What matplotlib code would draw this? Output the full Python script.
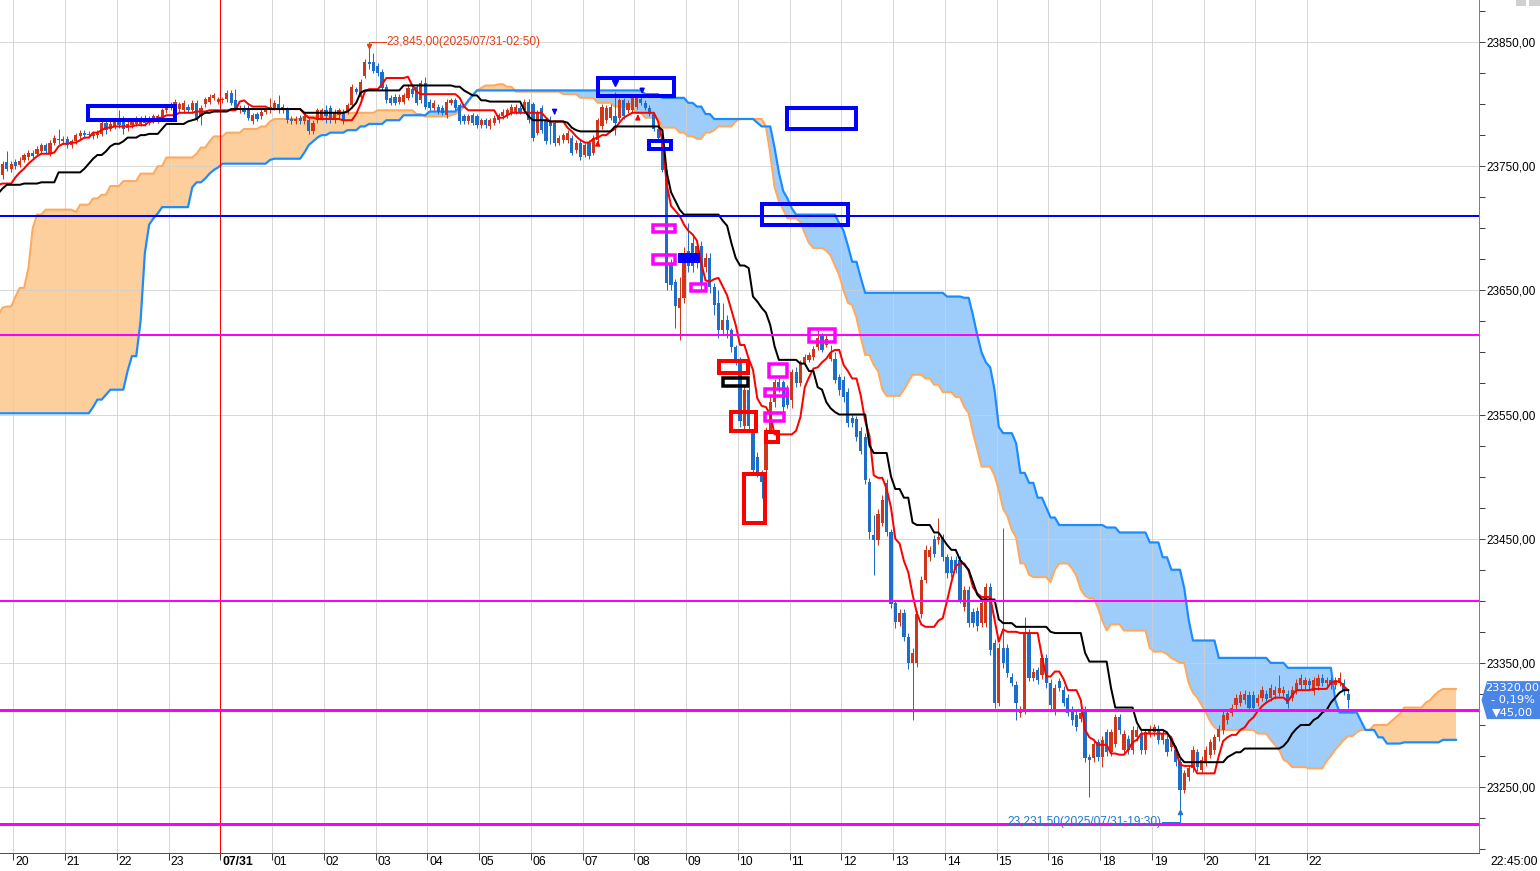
import numpy as np
import matplotlib
matplotlib.use("Agg")
import matplotlib.pyplot as plt
from matplotlib.patches import Rectangle, Polygon
from matplotlib.ticker import MultipleLocator, FixedLocator, FuncFormatter
from matplotlib.transforms import blended_transform_factory, IdentityTransform

plt.rcParams['font.family'] = ['Liberation Sans Narrow', 'Liberation Sans', 'DejaVu Sans']

# ================================
# 5-minute candles, 07/30 19:45 -> 07/31 22:45 (17:00 hour is a break)
# one row per hour (first row = 19:45..19:55)
# ================================
opens = [
    23743, 23753, 23748,
    23753, 23751, 23755, 23757, 23761, 23760, 23762, 23767, 23760, 23769, 23771, 23770,
    23772, 23767, 23770, 23774, 23777, 23776, 23774, 23775, 23776, 23785, 23780, 23782,
    23788, 23788, 23781, 23783, 23784, 23784, 23789, 23785, 23787, 23787, 23789, 23795,
    23797, 23798, 23796, 23795, 23798, 23795, 23801, 23790, 23800, 23802, 23805, 23802,
    23803, 23804, 23809, 23803, 23795, 23797, 23797, 23786, 23792, 23790, 23794, 23795,
    23797, 23800, 23798, 23796, 23788, 23786, 23789, 23786, 23787, 23778, 23787, 23789,
    23795, 23797, 23787, 23791, 23794, 23794, 23799, 23812, 23806, 23823, 23834, 23834,
    23831, 23826, 23814, 23805, 23806, 23802, 23802, 23805, 23812, 23814, 23803, 23817,
    23802, 23797, 23798, 23797, 23791, 23801, 23803, 23799, 23790, 23786, 23791, 23790,
    23783, 23787, 23782, 23785, 23787, 23790, 23791, 23793, 23794, 23797, 23795, 23802,
    23800, 23777, 23797, 23787, 23786, 23785, 23769, 23771, 23771, 23773, 23763, 23769,
    23759, 23769, 23761, 23771, 23782, 23787, 23789, 23790, 23789, 23803, 23795, 23795,
    23798, 23804, 23801, 23797, 23792, 23780, 23773, 23745, 23672, 23657, 23636, 23644,
    23682, 23688, 23672, 23686, 23669, 23676, 23653, 23640, 23618, 23626, 23618, 23604,
    23594, 23541, 23570, 23535, 23516, 23503, 23505, 23537, 23560, 23576, 23576, 23571,
    23562, 23584, 23575, 23591, 23594, 23596, 23604, 23614, 23606, 23595, 23595, 23580,
    23578, 23568, 23547, 23546, 23537, 23532, 23496, 23453, 23449, 23463, 23495, 23455,
    23398, 23383, 23390, 23371, 23350, 23350, 23389, 23417, 23435, 23450, 23449, 23451,
    23435, 23433, 23433, 23433, 23395, 23409, 23391, 23392, 23382, 23382, 23411, 23366,
    23318, 23362, 23362, 23339, 23332, 23310, 23312, 23374, 23338, 23344, 23340, 23354,
    23334, 23312, 23335, 23328, 23322, 23312, 23308, 23305, 23312, 23274, 23273, 23286,
    23274, 23294, 23278, 23285, 23306, 23280, 23289, 23280, 23290, 23293, 23280, 23293,
    23294, 23297, 23288, 23289, 23282, 23280, 23270, 23248, 23258, 23265, 23278, 23264,
    23270, 23276, 23280, 23290, 23296, 23304, 23310, 23316, 23318, 23320, 23324, 23324,
    23318, 23322, 23325, 23322, 23324, 23326, 23326, 23325, 23322, 23328, 23332, 23332,
    23335, 23327, 23331, 23338, 23334, 23336, 23332, 23334, 23334, 23325,
]
highs = [
    23754, 23762, 23754,
    23756, 23757, 23761, 23763, 23763, 23766, 23769, 23769, 23771, 23775, 23780, 23774,
    23774, 23772, 23777, 23779, 23779, 23778, 23778, 23779, 23787, 23787, 23786, 23789,
    23795, 23790, 23786, 23788, 23790, 23790, 23791, 23790, 23792, 23792, 23797, 23800,
    23802, 23804, 23802, 23803, 23800, 23803, 23803, 23799, 23806, 23808, 23809, 23806,
    23806, 23811, 23811, 23812, 23799, 23799, 23799, 23793, 23794, 23796, 23798, 23805,
    23803, 23807, 23800, 23798, 23790, 23790, 23791, 23792, 23789, 23787, 23797, 23797,
    23799, 23799, 23796, 23797, 23796, 23801, 23816, 23814, 23820, 23836, 23845, 23841,
    23833, 23828, 23816, 23807, 23808, 23808, 23809, 23815, 23814, 23816, 23819, 23822,
    23804, 23803, 23800, 23799, 23804, 23805, 23805, 23801, 23792, 23792, 23793, 23792,
    23789, 23789, 23789, 23791, 23793, 23796, 23797, 23800, 23800, 23799, 23804, 23804,
    23802, 23795, 23799, 23789, 23790, 23787, 23775, 23777, 23779, 23775, 23771, 23771,
    23769, 23771, 23775, 23789, 23800, 23799, 23800, 23810, 23805, 23805, 23803, 23807,
    23807, 23806, 23803, 23799, 23794, 23782, 23775, 23747, 23675, 23659, 23661, 23685,
    23704, 23695, 23690, 23690, 23680, 23680, 23656, 23650, 23640, 23630, 23620, 23606,
    23596, 23574, 23572, 23537, 23520, 23505, 23540, 23565, 23579, 23580, 23578, 23574,
    23587, 23588, 23594, 23599, 23600, 23605, 23618, 23616, 23614, 23606, 23600, 23583,
    23581, 23571, 23550, 23549, 23540, 23535, 23499, 23469, 23474, 23485, 23498, 23458,
    23401, 23393, 23393, 23374, 23362, 23392, 23420, 23445, 23444, 23453, 23467, 23454,
    23438, 23436, 23436, 23436, 23412, 23412, 23394, 23395, 23401, 23414, 23414, 23369,
    23366, 23459, 23365, 23342, 23335, 23315, 23387, 23377, 23346, 23347, 23357, 23357,
    23337, 23333, 23338, 23331, 23325, 23315, 23311, 23313, 23315, 23277, 23288, 23289,
    23291, 23297, 23297, 23309, 23309, 23296, 23292, 23299, 23299, 23296, 23297, 23300,
    23301, 23300, 23296, 23292, 23291, 23283, 23273, 23264, 23268, 23283, 23281, 23275,
    23283, 23289, 23293, 23300, 23311, 23313, 23317, 23325, 23327, 23328, 23327, 23327,
    23325, 23331, 23328, 23333, 23331, 23340, 23331, 23328, 23331, 23337, 23341, 23339,
    23338, 23339, 23341, 23341, 23339, 23339, 23339, 23343, 23337, 23328,
]
lows = [
    23740, 23746, 23745,
    23748, 23749, 23753, 23755, 23756, 23758, 23760, 23760, 23758, 23767, 23768, 23768,
    23765, 23765, 23768, 23772, 23773, 23773, 23772, 23773, 23774, 23776, 23778, 23780,
    23781, 23776, 23778, 23781, 23782, 23782, 23782, 23783, 23785, 23785, 23787, 23793,
    23795, 23796, 23794, 23793, 23793, 23793, 23786, 23783, 23798, 23800, 23803, 23800,
    23801, 23802, 23799, 23795, 23793, 23792, 23787, 23784, 23786, 23788, 23792, 23793,
    23795, 23793, 23793, 23785, 23784, 23784, 23784, 23784, 23776, 23776, 23785, 23787,
    23785, 23785, 23785, 23789, 23784, 23792, 23797, 23808, 23804, 23821, 23828, 23825,
    23823, 23811, 23801, 23799, 23799, 23800, 23800, 23803, 23806, 23799, 23801, 23796,
    23795, 23795, 23792, 23791, 23789, 23799, 23795, 23784, 23784, 23784, 23783, 23781,
    23781, 23781, 23780, 23783, 23785, 23788, 23789, 23791, 23792, 23792, 23793, 23785,
    23770, 23775, 23777, 23768, 23768, 23766, 23767, 23769, 23769, 23759, 23761, 23755,
    23757, 23756, 23759, 23769, 23780, 23785, 23787, 23775, 23787, 23788, 23793, 23793,
    23796, 23799, 23795, 23790, 23778, 23771, 23745, 23650, 23650, 23620, 23610, 23640,
    23665, 23665, 23668, 23650, 23665, 23648, 23630, 23612, 23614, 23612, 23600, 23590,
    23540, 23538, 23538, 23502, 23500, 23483, 23500, 23535, 23556, 23568, 23552, 23555,
    23555, 23572, 23573, 23589, 23592, 23594, 23602, 23600, 23604, 23593, 23575, 23566,
    23560, 23540, 23540, 23529, 23518, 23494, 23450, 23421, 23445, 23460, 23452, 23394,
    23378, 23380, 23368, 23345, 23304, 23347, 23386, 23414, 23432, 23435, 23446, 23432,
    23418, 23419, 23422, 23398, 23392, 23379, 23379, 23376, 23379, 23379, 23356, 23314,
    23315, 23346, 23339, 23331, 23304, 23306, 23309, 23335, 23335, 23333, 23337, 23330,
    23312, 23308, 23327, 23315, 23307, 23300, 23295, 23302, 23270, 23242, 23270, 23271,
    23266, 23275, 23275, 23282, 23293, 23277, 23277, 23277, 23287, 23277, 23277, 23290,
    23291, 23285, 23285, 23275, 23279, 23267, 23231.5, 23245, 23255, 23262, 23263, 23261,
    23267, 23273, 23277, 23287, 23293, 23301, 23307, 23313, 23315, 23317, 23311, 23311,
    23315, 23319, 23318, 23319, 23321, 23323, 23323, 23314, 23319, 23325, 23329, 23329,
    23329, 23324, 23328, 23331, 23331, 23329, 23329, 23331, 23324, 23314,
]
closes = [
    23752, 23748, 23752,
    23750, 23754, 23759, 23761, 23758, 23764, 23767, 23762, 23769, 23773, 23772, 23772,
    23767, 23770, 23775, 23777, 23775, 23775, 23776, 23777, 23785, 23779, 23784, 23787,
    23783, 23780, 23784, 23786, 23788, 23788, 23785, 23788, 23790, 23790, 23795, 23798,
    23800, 23802, 23800, 23801, 23795, 23801, 23788, 23797, 23804, 23806, 23807, 23804,
    23804, 23809, 23801, 23797, 23797, 23794, 23789, 23791, 23788, 23794, 23796, 23798,
    23801, 23795, 23795, 23787, 23786, 23788, 23786, 23790, 23778, 23785, 23795, 23795,
    23790, 23787, 23794, 23795, 23786, 23799, 23814, 23810, 23818, 23834, 23832, 23827,
    23825, 23813, 23803, 23801, 23801, 23806, 23807, 23813, 23808, 23801, 23817, 23798,
    23797, 23801, 23794, 23793, 23802, 23803, 23797, 23786, 23786, 23790, 23785, 23783,
    23787, 23783, 23787, 23789, 23791, 23794, 23795, 23798, 23798, 23794, 23802, 23787,
    23773, 23793, 23779, 23770, 23782, 23769, 23773, 23775, 23777, 23761, 23769, 23757,
    23767, 23758, 23773, 23787, 23798, 23797, 23798, 23785, 23803, 23790, 23801, 23805,
    23805, 23801, 23797, 23792, 23780, 23773, 23747, 23656, 23654, 23637, 23644, 23680,
    23670, 23670, 23686, 23654, 23676, 23653, 23638, 23618, 23626, 23618, 23604, 23594,
    23545, 23570, 23541, 23505, 23503, 23496, 23537, 23560, 23576, 23572, 23556, 23558,
    23584, 23575, 23592, 23596, 23598, 23603, 23612, 23602, 23611, 23599, 23578, 23570,
    23564, 23543, 23543, 23532, 23521, 23497, 23455, 23449, 23470, 23481, 23455, 23397,
    23383, 23390, 23371, 23350, 23358, 23389, 23417, 23441, 23441, 23438, 23451, 23435,
    23422, 23422, 23425, 23401, 23409, 23382, 23382, 23380, 23398, 23411, 23360, 23318,
    23362, 23350, 23342, 23334, 23318, 23312, 23375, 23338, 23343, 23336, 23354, 23334,
    23316, 23330, 23330, 23318, 23310, 23304, 23298, 23310, 23273, 23272, 23285, 23274,
    23288, 23278, 23294, 23306, 23296, 23293, 23280, 23296, 23296, 23280, 23294, 23297,
    23298, 23288, 23293, 23278, 23288, 23270, 23248, 23261, 23265, 23280, 23266, 23272,
    23280, 23286, 23290, 23297, 23308, 23310, 23314, 23322, 23324, 23325, 23314, 23314,
    23322, 23328, 23321, 23330, 23328, 23330, 23328, 23317, 23328, 23334, 23338, 23336,
    23332, 23336, 23338, 23334, 23336, 23332, 23336, 23338, 23327, 23320,
]

# ================================
# Ichimoku lines as (value, number of bars) runs,
# all starting one bar before the first candle
# ================================
tenkan_runs = [
    (23735, 1), (23736, 3), (23741, 1), (23745, 1), (23748, 1), (23752, 1), (23755, 1), (23758, 1),
    (23760, 3), (23761, 1), (23766, 1), (23768, 2), (23769, 2), (23771, 1), (23773, 2), (23777, 2),
    (23779, 1), (23781, 2), (23782, 5), (23783, 3), (23786, 2), (23789, 2), (23791, 3), (23793, 4),
    (23794, 3), (23795, 7), (23802, 1), (23803, 1), (23800, 1), (23798, 4), (23796, 8), (23792, 1),
    (23789, 2), (23788, 6), (23787, 3), (23792, 1), (23800, 1), (23810, 1), (23812, 3), (23816, 1),
    (23821, 5), (23822, 1), (23815, 1), (23810, 1), (23808, 9), (23805, 1), (23798, 1), (23795, 7),
    (23789, 2), (23791, 1), (23793, 8), (23789, 1), (23786, 4), (23781, 1), (23778, 1), (23774, 1),
    (23771, 1), (23769, 2), (23772, 1), (23773, 1), (23775, 2), (23778, 1), (23780, 1), (23785, 1),
    (23789, 1), (23791, 1), (23793, 6), (23786, 1), (23770, 1), (23735, 1), (23718, 1), (23714, 1),
    (23710, 1), (23703, 1), (23698, 1), (23695, 1), (23690, 1), (23672, 1), (23658, 1), (23657, 1),
    (23659, 1), (23660, 1), (23653, 1), (23646, 1), (23634, 1), (23622, 1), (23606, 2), (23595, 1),
    (23586, 1), (23563, 1), (23557, 1), (23556, 1), (23550, 1), (23534, 5), (23537, 1), (23548, 1),
    (23572, 1), (23580, 1), (23587, 1), (23588, 1), (23592, 1), (23595, 1), (23600, 1), (23602, 2),
    (23590, 1), (23585, 1), (23579, 2), (23565, 1), (23545, 1), (23533, 1), (23501, 1), (23499, 2),
    (23490, 1), (23475, 1), (23450, 1), (23446, 1), (23432, 1), (23423, 1), (23405, 1), (23390, 1),
    (23381, 1), (23379, 3), (23384, 1), (23386, 1), (23400, 1), (23415, 1), (23428, 1), (23430, 2),
    (23424, 1), (23411, 1), (23406, 1), (23403, 3), (23385, 1), (23367, 1), (23377, 1), (23375, 3),
    (23374, 5), (23355, 1), (23339, 2), (23343, 2), (23337, 1), (23328, 3), (23320, 1), (23296, 1),
    (23290, 1), (23288, 1), (23284, 3), (23277, 2), (23276, 2), (23280, 1), (23286, 1), (23288, 1),
    (23293, 7), (23290, 1), (23280, 1), (23268, 1), (23267, 3), (23261, 5), (23275, 1), (23287, 1),
    (23290, 1), (23292, 2), (23296, 1), (23298, 1), (23303, 1), (23306, 1), (23311, 1), (23315, 1),
    (23318, 1), (23320, 1), (23322, 3), (23319, 1), (23324, 1), (23328, 4), (23329, 4), (23334, 1),
    (23335, 2), (23331, 1), (23328, 1),
]
kijun_runs = [
    (23728, 1), (23732, 1), (23735, 4), (23736, 4), (23737, 4), (23745, 6), (23748, 1), (23752, 1),
    (23756, 1), (23759, 2), (23762, 1), (23766, 1), (23768, 2), (23770, 1), (23773, 3), (23775, 2),
    (23776, 3), (23780, 1), (23784, 5), (23786, 1), (23787, 1), (23788, 1), (23791, 1), (23793, 2),
    (23794, 4), (23796, 17), (23793, 10), (23794, 1), (23797, 1), (23801, 1), (23809, 1), (23811, 9),
    (23815, 12), (23814, 2), (23811, 1), (23809, 1), (23807, 2), (23803, 2), (23802, 8), (23795, 1),
    (23790, 1), (23787, 4), (23786, 4), (23785, 1), (23781, 1), (23779, 1), (23778, 8), (23782, 11),
    (23779, 1), (23745, 1), (23729, 1), (23722, 1), (23715, 1), (23711, 9), (23706, 1), (23702, 1),
    (23688, 1), (23676, 1), (23670, 2), (23668, 1), (23645, 1), (23641, 1), (23636, 1), (23632, 1),
    (23622, 1), (23605, 1), (23594, 5), (23591, 2), (23585, 2), (23572, 1), (23570, 1), (23560, 1),
    (23555, 1), (23552, 1), (23550, 7), (23525, 1), (23519, 4), (23500, 1), (23490, 2), (23483, 2),
    (23463, 1), (23461, 4), (23455, 2), (23450, 1), (23445, 1), (23441, 2), (23433, 1), (23429, 1),
    (23425, 1), (23415, 1), (23405, 1), (23401, 4), (23385, 1), (23382, 3), (23379, 8), (23375, 1),
    (23374, 7), (23358, 1), (23351, 5), (23330, 1), (23314, 5), (23302, 1), (23296, 6), (23294, 1),
    (23288, 1), (23282, 1), (23274, 1), (23270, 10), (23274, 1), (23276, 1), (23278, 2), (23281, 9),
    (23283, 1), (23287, 1), (23293, 1), (23297, 1), (23300, 3), (23304, 1), (23306, 1), (23310, 1),
    (23312, 1), (23318, 1), (23322, 1), (23326, 1), (23328, 2),
]
span_a_runs = [
    (23630, 1), (23636, 1), (23637, 2), (23645, 1), (23652, 2), (23668, 1), (23700, 1), (23711, 2),
    (23715, 7), (23713, 1), (23719, 3), (23724, 2), (23727, 2), (23734, 3), (23738, 4), (23744, 4),
    (23750, 2), (23757, 7), (23760, 1), (23765, 2), (23770, 1), (23774, 3), (23777, 4), (23780, 4),
    (23782, 2), (23786, 1), (23788, 7), (23790, 8), (23793, 9), (23795, 9), (23792, 2), (23790, 6),
    (23791, 1), (23792, 1), (23794, 1), (23798, 1), (23802, 1), (23807, 1), (23811, 1), (23813, 1),
    (23815, 3), (23816, 2), (23814, 2), (23810, 11), (23808, 4), (23805, 4), (23801, 4), (23798, 5),
    (23793, 2), (23789, 4), (23781, 4), (23777, 2), (23774, 2), (23772, 2), (23777, 2), (23779, 1),
    (23782, 4), (23786, 1), (23788, 3), (23788, 3), (23782, 1), (23760, 1), (23733, 1), (23722, 1),
    (23715, 1), (23708, 3), (23705, 1), (23696, 1), (23688, 1), (23684, 3), (23682, 1), (23678, 1),
    (23670, 1), (23662, 1), (23650, 1), (23640, 1), (23638, 1), (23628, 1), (23612, 1), (23598, 2),
    (23590, 1), (23585, 1), (23570, 1), (23565, 4), (23570, 1), (23576, 1), (23582, 3), (23579, 2),
    (23574, 2), (23568, 3), (23564, 2), (23556, 1), (23551, 1), (23535, 1), (23522, 1), (23508, 3),
    (23501, 1), (23489, 1), (23474, 1), (23468, 1), (23457, 1), (23451, 1), (23430, 2), (23421, 1),
    (23419, 4), (23415, 1), (23425, 1), (23430, 3), (23426, 1), (23420, 1), (23409, 1), (23404, 1),
    (23402, 2), (23394, 1), (23384, 1), (23376, 1), (23381, 3), (23376, 6), (23362, 1), (23359, 3),
    (23357, 1), (23354, 1), (23352, 1), (23350, 2), (23334, 1), (23326, 1), (23322, 1), (23316, 1),
    (23310, 1), (23303, 1), (23298, 1), (23296, 9), (23293, 3), (23288, 1), (23284, 1), (23280, 1),
    (23272, 1), (23270, 1), (23266, 4), (23265, 4), (23271, 1), (23275, 1), (23280, 1), (23284, 1),
    (23288, 1), (23291, 2), (23294, 1), (23296, 3), (23300, 4), (23303, 1), (23306, 1), (23309, 1),
    (23314, 5), (23318, 1), (23320, 1), (23324, 1), (23327, 1), (23329, 4),
]
span_b_runs = [
    (23551, 22), (23556, 1), (23562, 2), (23566, 1), (23570, 4), (23585, 1), (23597, 2), (23625, 1),
    (23680, 1), (23703, 1), (23708, 1), (23712, 1), (23717, 7), (23733, 1), (23737, 2), (23740, 1),
    (23744, 1), (23747, 1), (23749, 1), (23752, 11), (23755, 1), (23756, 7), (23761, 1), (23767, 1),
    (23770, 1), (23773, 1), (23775, 2), (23777, 4), (23779, 3), (23782, 2), (23784, 4), (23787, 4),
    (23791, 6), (23794, 7), (23798, 2), (23803, 1), (23807, 1), (23811, 39), (23808, 4), (23805, 6),
    (23801, 2), (23798, 2), (23792, 2), (23788, 10), (23785, 1), (23782, 3), (23765, 1), (23745, 1),
    (23730, 1), (23724, 1), (23716, 1), (23711, 10), (23704, 1), (23698, 1), (23686, 1), (23673, 2),
    (23660, 1), (23648, 19), (23645, 4), (23644, 2), (23630, 1), (23614, 1), (23600, 1), (23592, 1),
    (23588, 1), (23570, 1), (23540, 1), (23535, 3), (23527, 1), (23503, 2), (23495, 2), (23483, 2),
    (23475, 1), (23467, 2), (23461, 11), (23459, 3), (23455, 7), (23447, 3), (23435, 2), (23425, 3),
    (23410, 1), (23385, 1), (23368, 6), (23354, 12), (23350, 4), (23346, 11), (23320, 1), (23310, 5),
    (23303, 1), (23296, 3), (23290, 2), (23285, 4), (23286, 9), (23288, 4),
]

hour_labels = ["20", "21", "22", "23", "07/31", "01", "02", "03", "04", "05", "06", "07", "08",
               "09", "10", "11", "12", "13", "14", "15", "16", "18", "19", "20", "21", "22"]
BARS_PER_HOUR = 12
FIRST_HOUR_BAR = 3          # 20:00 is the 4th candle
DAY_CHANGE_LABEL = "07/31"

level_prices = [23710, 23614, 23400, 23312, 23220]

max_time = "2025/07/31-02:50"
min_time = "2025/07/31-19:30"
day_change_pts = -45.0
day_change_pct = -0.19
clock_label = "22:45:00"

# drawn zones: (bar from, bar to, price low, price high)
blue_boxes = [(19.8, 40.0, 23787.2, 23798.5), (138.1, 155.7, 23806.5, 23821.0),
              (181.9, 197.9, 23779.9, 23796.8), (176.1, 196.0, 23702.6, 23719.5),
              (149.9, 155.0, 23763.8, 23770.3)]
blue_filled = [(156.6, 161.5, 23672.8, 23680.1)]
magenta_boxes = [(150.9, 156.0, 23696.6, 23703.0), (150.9, 156.0, 23671.6, 23678.1),
                 (159.7, 163.0, 23649.1, 23655.5), (186.9, 193.1, 23608.0, 23618.5),
                 (177.8, 181.8, 23580.6, 23590.3), (176.9, 181.8, 23565.3, 23570.9),
                 (176.9, 181.1, 23544.4, 23551.6)]
red_boxes = [(166.1, 172.9, 23583.4, 23593.1), (168.9, 174.7, 23536.7, 23552.0),
             (177.0, 179.8, 23527.9, 23535.9), (171.9, 176.8, 23462.6, 23502.1)]
black_boxes = [(167.1, 172.9, 23572.6, 23579.8)]
# signal arrows: (bar, tail price, head price)
blue_arrows = [(128, 23795, 23789), (148.3, 23814, 23806)]
red_arrows = [(138, 23765, 23773), (147.3, 23787, 23794)]
blue_flags = [(142, 23817)]


def expand(runs):
    return np.concatenate([np.full(n, v, dtype=float) for v, n in runs])


PX = 0.72  # points per pixel at 100 dpi

n = min(len(opens), len(highs), len(lows), len(closes))
o = np.array(opens[:n], float)
h = np.array(highs[:n], float)
l = np.array(lows[:n], float)
c = np.array(closes[:n], float)
h = np.maximum(h, np.maximum(o, c))
l = np.minimum(l, np.minimum(o, c))
idx = np.arange(n)

tenkan = expand(tenkan_runs)
kijun = expand(kijun_runs)
span_a = expand(span_a_runs)
span_b = expand(span_b_runs)
m = min(len(span_a), len(span_b))
span_a, span_b = span_a[:m], span_b[:m]
x_span = np.arange(-1, m - 1)

fig = plt.figure(figsize=(15.4, 8.71), dpi=100)
ax = fig.add_axes([0, 18 / 871, 1479 / 1540, 853 / 871])
ax.set_xlim(-0.584, 342.33)
ax.set_ylim(23196.87, 23883.82)

# cloud
ax.fill_between(x_span, span_a, span_b, where=span_a >= span_b, interpolate=True,
                color="#fdcf9d", lw=0, zorder=1)
ax.fill_between(x_span, span_a, span_b, where=span_a < span_b, interpolate=True,
                color="#9ecdfb", lw=0, zorder=1)

# grid
grid_x = [FIRST_HOUR_BAR - 0.5 + BARS_PER_HOUR * k for k in range(len(hour_labels))]
for gx, lab in zip(grid_x, hour_labels):
    if lab == DAY_CHANGE_LABEL:
        ax.axvline(gx, color="#ff0000", lw=1 * PX, zorder=2.2)
    else:
        ax.axvline(gx, color="#cfcfcf", lw=1 * PX, alpha=0.8, zorder=1.5)
for gy in range(23250, 23851, 100):
    ax.axhline(gy, color="#cfcfcf", lw=1 * PX, alpha=0.8, zorder=1.5)

ax.plot(x_span, span_a, color="#ffa95e", lw=2 * PX, zorder=2)
ax.plot(x_span, span_b, color="#1a8cff", lw=2.2 * PX, zorder=2)

# candles
up = c >= o
col = np.where(up, "#d2361a", "#1d6dcb")
ax.vlines(idx, l, h, colors=col, lw=1 * PX, zorder=3)
body_h = np.maximum(np.abs(c - o), 0.8)
ax.bar(idx, body_h, bottom=np.minimum(o, c), width=0.74, color=col, lw=0, zorder=3.1)

# conversion / base lines
ax.plot(np.arange(-1, len(tenkan) - 1), tenkan, color="#ff0000", lw=2 * PX, zorder=4)
ax.plot(np.arange(-1, len(kijun) - 1), kijun, color="#000000", lw=2 * PX, zorder=4)

# horizontal levels
level_style = [("#0000ff", 2), ("#ff00ff", 2), ("#ff00ff", 2), ("#ff00ff", 3), ("#ff00ff", 3)]
for p, (lc, lw) in zip(level_prices, level_style):
    ax.axhline(p, color=lc, lw=lw * PX, zorder=5)

# marked zones
def boxes(lst, color, lw, fill=False):
    for x0, x1, y0, y1 in lst:
        ax.add_patch(Rectangle((x0, y0), x1 - x0, y1 - y0, fill=fill,
                               facecolor=color if fill else "none",
                               edgecolor=color, lw=lw * PX, zorder=6))

boxes(blue_boxes, "#0000ff", 4)
boxes(blue_filled, "#0000ff", 1, fill=True)
boxes(magenta_boxes, "#ff00ff", 3.5)
boxes(red_boxes, "#ff0000", 4)
boxes(black_boxes, "#000000", 3.5)

for bx, p0, p1 in blue_arrows:
    ax.annotate("", xy=(bx, p1), xytext=(bx, p0),
                arrowprops=dict(arrowstyle="-|>", color="#0000ff", lw=1.5 * PX,
                                mutation_scale=7), zorder=6)
for bx, p0, p1 in red_arrows:
    ax.annotate("", xy=(bx, p1), xytext=(bx, p0),
                arrowprops=dict(arrowstyle="-|>", color="#ff0000", lw=1.5 * PX,
                                mutation_scale=7), zorder=6)
for bx, p in blue_flags:
    ax.plot(bx, p, marker="v", ms=5, color="#0000ff", zorder=6)

# high / low marks
hi_i = int(np.argmax(h))
lo_i = int(np.argmin(l))
hi_v, lo_v = h[hi_i], l[lo_i]
hi_txt = f"{hi_v:,.2f}".replace(".", ",") + f"({max_time})"
lo_txt = f"{lo_v:,.2f}".replace(".", ",") + f"({min_time})"
ax.plot([hi_i, hi_i, hi_i + 3.9], [hi_v + 1, 23850.2, 23850.2], color="#e0401a", lw=1 * PX, zorder=6)
ax.plot(hi_i, hi_v + 1.6, marker="v", ms=3, color="#e0401a", zorder=6)
ax.text(hi_i + 4.0, 23850.2, hi_txt, color="#e0401a", fontsize=8.6, va="center", ha="left", zorder=7)
ax.plot([lo_i - 4.2, lo_i, lo_i], [23221.6, 23221.6, lo_v - 1.5], color="#1f78d1", lw=1 * PX, zorder=6)
ax.plot(lo_i, lo_v - 2.0, marker="^", ms=3, color="#1f78d1", zorder=6)
ax.text(lo_i - 4.4, 23221.6, lo_txt, color="#1f78d1", fontsize=8.6, va="center", ha="right", zorder=7)

# axes styling
for s in ("left", "top"):
    ax.spines[s].set_visible(False)
ax.spines["right"].set_color("#808080")
ax.spines["bottom"].set_color("#505050")
ax.spines["right"].set_linewidth(1 * PX)
ax.spines["bottom"].set_linewidth(1 * PX)

ax.yaxis.tick_right()
ax.yaxis.set_major_locator(FixedLocator(list(range(23250, 23851, 100))))
ax.yaxis.set_minor_locator(MultipleLocator(25))
ax.yaxis.set_major_formatter(FuncFormatter(lambda v, _: f"{v:.2f}".replace(".", ",")))
ax.tick_params(axis="y", which="both", direction="out", length=4 * PX * 1.4, width=1 * PX,
               color="#404040", pad=1, labelsize=8.5)

ax.set_xticks(grid_x)
ax.set_xticklabels([])
ax.tick_params(axis="x", direction="out", length=5, width=1 * PX, color="#404040")
tb = blended_transform_factory(ax.transData, ax.transAxes)
for gx, lab in zip(grid_x, hour_labels):
    ax.text(gx + 0.4, -0.0106, lab, transform=tb, fontsize=8.8, ha="left", va="center",
            fontweight="bold" if lab == DAY_CHANGE_LABEL else "normal", clip_on=False)
fig.text(1538 / 1540, 1 - 862 / 871, clock_label, fontsize=8.8, ha="right", va="center")

# last price tag
fig.canvas.draw()
_, ypx = ax.transData.transform((0, c[-1]))
tag = Polygon([(1481.5, ypx), (1487, ypx + 19), (1540, ypx + 19), (1540, ypx - 19), (1487, ypx - 19)],
              closed=True, facecolor="#4a86e8", edgecolor="none", transform=IdentityTransform())
fig.add_artist(tag)
tag_lines = [f"{c[-1]:.2f}".replace(".", ","),
             f"- {abs(day_change_pct):.2f}%".replace(".", ","),
             f"\u25bc{abs(day_change_pts):.2f}".replace(".", ",")]
for k, t in enumerate(tag_lines):
    fig.text(1512.5, ypx + 12.5 - 12.5 * k, t, color="white", fontsize=8.2, ha="center", va="center",
             transform=IdentityTransform(), family=['Liberation Sans Narrow', 'DejaVu Sans'])

# tiny toolbar at the top right
fig.add_artist(Rectangle((1516, 865), 10, 6, facecolor="#d0d0d0", edgecolor="none",
                         transform=IdentityTransform()))
fig.add_artist(Rectangle((1529, 865), 11, 6, facecolor="#d0d0d0", edgecolor="none",
                         transform=IdentityTransform()))

fig.savefig("out.png", dpi=100)
